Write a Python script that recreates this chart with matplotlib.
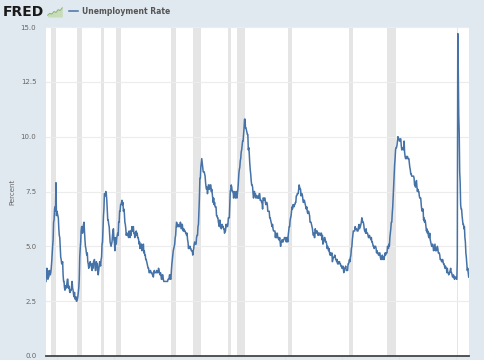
import matplotlib
matplotlib.use("Agg")
import matplotlib.pyplot as plt
import pandas as pd

# monthly unemployment rate (%), one row per year, Jan 1948 - Mar 2022
rate = [
    3.4, 3.8, 4.0, 3.9, 3.5, 3.6, 3.6, 3.9, 3.8, 3.7, 3.8, 4.0,   # 1948
    4.3, 4.7, 5.0, 5.3, 6.1, 6.2, 6.7, 6.8, 6.6, 7.9, 6.4, 6.6,   # 1949
    6.5, 6.4, 6.3, 5.8, 5.5, 5.4, 5.0, 4.5, 4.4, 4.2, 4.2, 4.3,   # 1950
    3.7, 3.4, 3.4, 3.1, 3.0, 3.2, 3.1, 3.1, 3.3, 3.5, 3.5, 3.1,   # 1951
    3.2, 3.1, 2.9, 2.9, 3.0, 3.0, 3.2, 3.4, 3.1, 3.0, 2.8, 2.7,   # 1952
    2.9, 2.6, 2.6, 2.7, 2.5, 2.5, 2.6, 2.7, 2.9, 3.1, 3.5, 4.5,   # 1953
    4.9, 5.2, 5.7, 5.9, 5.9, 5.6, 5.8, 6.0, 6.1, 5.7, 5.3, 5.0,   # 1954
    4.9, 4.7, 4.6, 4.7, 4.3, 4.2, 4.0, 4.2, 4.1, 4.3, 4.2, 4.2,   # 1955
    4.0, 3.9, 4.2, 4.0, 4.3, 4.3, 4.4, 4.1, 3.9, 3.9, 4.3, 4.2,   # 1956
    4.2, 3.9, 3.7, 3.9, 4.1, 4.3, 4.2, 4.1, 4.4, 4.5, 5.1, 5.2,   # 1957
    5.8, 6.4, 6.7, 7.4, 7.4, 7.3, 7.5, 7.4, 7.1, 6.7, 6.2, 6.2,   # 1958
    6.0, 5.9, 5.6, 5.2, 5.1, 5.0, 5.1, 5.2, 5.5, 5.7, 5.8, 5.3,   # 1959
    5.2, 4.8, 5.4, 5.2, 5.1, 5.4, 5.5, 5.6, 5.5, 6.1, 6.1, 6.6,   # 1960
    6.6, 6.9, 6.9, 7.0, 7.1, 6.9, 7.0, 6.6, 6.7, 6.5, 6.1, 6.0,   # 1961
    5.8, 5.5, 5.6, 5.6, 5.5, 5.5, 5.4, 5.7, 5.6, 5.4, 5.7, 5.5,   # 1962
    5.7, 5.9, 5.7, 5.7, 5.9, 5.6, 5.6, 5.4, 5.5, 5.5, 5.7, 5.5,   # 1963
    5.6, 5.4, 5.4, 5.3, 5.1, 5.2, 4.9, 5.0, 5.1, 5.1, 4.8, 5.0,   # 1964
    4.9, 5.1, 4.7, 4.8, 4.6, 4.6, 4.4, 4.4, 4.3, 4.2, 4.1, 4.0,   # 1965
    4.0, 3.8, 3.8, 3.8, 3.9, 3.8, 3.8, 3.8, 3.7, 3.7, 3.6, 3.8,   # 1966
    3.9, 3.8, 3.8, 3.8, 3.8, 3.9, 3.8, 3.8, 3.8, 4.0, 3.9, 3.8,   # 1967
    3.7, 3.8, 3.7, 3.5, 3.5, 3.7, 3.7, 3.5, 3.4, 3.4, 3.4, 3.4,   # 1968
    3.4, 3.4, 3.4, 3.4, 3.4, 3.5, 3.5, 3.5, 3.7, 3.7, 3.5, 3.5,   # 1969
    3.9, 4.2, 4.4, 4.6, 4.8, 4.9, 5.0, 5.1, 5.4, 5.5, 5.9, 6.1,   # 1970
    5.9, 5.9, 6.0, 5.9, 5.9, 5.9, 6.0, 6.1, 6.0, 5.8, 6.0, 6.0,   # 1971
    5.8, 5.7, 5.8, 5.7, 5.7, 5.7, 5.6, 5.6, 5.5, 5.6, 5.3, 5.2,   # 1972
    4.9, 5.0, 4.9, 5.0, 4.9, 4.9, 4.8, 4.8, 4.8, 4.6, 4.8, 4.9,   # 1973
    5.1, 5.2, 5.1, 5.1, 5.1, 5.4, 5.5, 5.5, 5.9, 6.0, 6.6, 7.2,   # 1974
    8.1, 8.1, 8.6, 8.8, 9.0, 8.8, 8.6, 8.4, 8.4, 8.4, 8.3, 8.2,   # 1975
    7.9, 7.7, 7.6, 7.7, 7.4, 7.6, 7.8, 7.8, 7.6, 7.7, 7.8, 7.8,   # 1976
    7.5, 7.6, 7.4, 7.2, 7.0, 7.2, 6.9, 7.0, 6.8, 6.8, 6.8, 6.4,   # 1977
    6.4, 6.3, 6.3, 6.1, 6.0, 5.9, 6.2, 5.9, 6.0, 5.8, 5.9, 6.0,   # 1978
    5.9, 5.9, 5.8, 5.8, 5.6, 5.7, 5.7, 6.0, 5.9, 6.0, 5.9, 6.0,   # 1979
    6.3, 6.3, 6.3, 6.9, 7.5, 7.6, 7.8, 7.7, 7.5, 7.5, 7.5, 7.2,   # 1980
    7.5, 7.4, 7.4, 7.2, 7.5, 7.5, 7.2, 7.4, 7.6, 7.9, 8.3, 8.5,   # 1981
    8.6, 8.9, 9.0, 9.3, 9.4, 9.6, 9.8, 9.8, 10.1, 10.4, 10.8, 10.8,  # 1982
    10.4, 10.4, 10.3, 10.2, 10.1, 10.1, 9.4, 9.5, 9.2, 8.8, 8.5, 8.3,  # 1983
    8.0, 7.8, 7.8, 7.7, 7.4, 7.2, 7.5, 7.5, 7.3, 7.4, 7.2, 7.3,   # 1984
    7.3, 7.2, 7.2, 7.3, 7.2, 7.4, 7.4, 7.1, 7.1, 7.1, 7.0, 7.0,   # 1985
    6.7, 7.2, 7.2, 7.1, 7.2, 7.2, 7.0, 6.9, 7.0, 7.0, 6.9, 6.6,   # 1986
    6.6, 6.6, 6.6, 6.3, 6.3, 6.2, 6.1, 6.0, 5.9, 6.0, 5.8, 5.7,   # 1987
    5.7, 5.7, 5.7, 5.4, 5.6, 5.4, 5.4, 5.6, 5.4, 5.4, 5.3, 5.3,   # 1988
    5.4, 5.2, 5.0, 5.2, 5.2, 5.3, 5.2, 5.2, 5.3, 5.3, 5.4, 5.4,   # 1989
    5.4, 5.3, 5.2, 5.4, 5.4, 5.2, 5.5, 5.7, 5.9, 5.9, 6.2, 6.3,   # 1990
    6.4, 6.6, 6.8, 6.7, 6.9, 6.9, 6.8, 6.9, 6.9, 7.0, 7.0, 7.3,   # 1991
    7.3, 7.4, 7.4, 7.4, 7.6, 7.8, 7.7, 7.6, 7.6, 7.3, 7.4, 7.4,   # 1992
    7.3, 7.1, 7.0, 7.1, 7.1, 7.0, 6.9, 6.8, 6.7, 6.8, 6.6, 6.5,   # 1993
    6.6, 6.6, 6.5, 6.4, 6.1, 6.1, 6.1, 6.0, 5.9, 5.8, 5.6, 5.5,   # 1994
    5.6, 5.4, 5.4, 5.8, 5.6, 5.6, 5.7, 5.7, 5.6, 5.5, 5.6, 5.6,   # 1995
    5.6, 5.5, 5.5, 5.6, 5.6, 5.3, 5.5, 5.1, 5.2, 5.2, 5.4, 5.4,   # 1996
    5.3, 5.2, 5.2, 5.1, 4.9, 5.0, 4.9, 4.8, 4.9, 4.7, 4.6, 4.7,   # 1997
    4.6, 4.6, 4.7, 4.3, 4.4, 4.5, 4.5, 4.5, 4.6, 4.5, 4.4, 4.4,   # 1998
    4.3, 4.4, 4.2, 4.3, 4.2, 4.3, 4.3, 4.2, 4.2, 4.1, 4.1, 4.0,   # 1999
    4.0, 4.1, 4.0, 3.8, 4.0, 4.0, 4.0, 4.1, 3.9, 3.9, 3.9, 3.9,   # 2000
    4.2, 4.2, 4.3, 4.4, 4.3, 4.5, 4.6, 4.9, 5.0, 5.3, 5.5, 5.7,   # 2001
    5.7, 5.7, 5.7, 5.9, 5.8, 5.8, 5.8, 5.7, 5.7, 5.7, 5.9, 6.0,   # 2002
    5.8, 5.9, 5.9, 6.0, 6.1, 6.3, 6.2, 6.1, 6.1, 6.0, 5.8, 5.7,   # 2003
    5.7, 5.6, 5.8, 5.6, 5.6, 5.6, 5.5, 5.4, 5.4, 5.5, 5.4, 5.4,   # 2004
    5.3, 5.4, 5.2, 5.2, 5.1, 5.0, 5.0, 4.9, 5.0, 5.0, 5.0, 4.9,   # 2005
    4.7, 4.8, 4.7, 4.7, 4.6, 4.6, 4.7, 4.7, 4.5, 4.4, 4.5, 4.4,   # 2006
    4.6, 4.5, 4.4, 4.5, 4.4, 4.6, 4.7, 4.6, 4.7, 4.7, 4.7, 5.0,   # 2007
    5.0, 4.9, 5.1, 5.0, 5.4, 5.6, 5.8, 6.1, 6.1, 6.5, 6.8, 7.3,   # 2008
    7.8, 8.3, 8.7, 9.0, 9.4, 9.5, 9.5, 9.6, 9.8, 10.0, 9.9, 9.9,  # 2009
    9.8, 9.8, 9.9, 9.9, 9.6, 9.4, 9.4, 9.5, 9.5, 9.4, 9.8, 9.3,   # 2010
    9.1, 9.0, 9.0, 9.1, 9.0, 9.1, 9.0, 9.0, 9.0, 8.8, 8.6, 8.5,   # 2011
    8.3, 8.3, 8.2, 8.2, 8.2, 8.2, 8.2, 8.1, 7.8, 7.8, 7.7, 7.9,   # 2012
    8.0, 7.7, 7.5, 7.6, 7.5, 7.5, 7.3, 7.2, 7.2, 7.2, 6.9, 6.7,   # 2013
    6.6, 6.7, 6.7, 6.2, 6.3, 6.1, 6.2, 6.1, 5.9, 5.7, 5.8, 5.6,   # 2014
    5.7, 5.5, 5.4, 5.4, 5.6, 5.3, 5.2, 5.1, 5.0, 5.0, 5.1, 5.0,   # 2015
    4.8, 4.9, 5.0, 5.1, 4.8, 4.9, 4.8, 4.9, 5.0, 4.9, 4.7, 4.7,   # 2016
    4.7, 4.6, 4.4, 4.4, 4.4, 4.3, 4.3, 4.4, 4.3, 4.2, 4.2, 4.1,   # 2017
    4.0, 4.1, 4.0, 4.0, 3.8, 4.0, 3.8, 3.8, 3.7, 3.8, 3.8, 3.9,   # 2018
    4.0, 3.8, 3.8, 3.7, 3.6, 3.6, 3.7, 3.6, 3.5, 3.6, 3.6, 3.6,   # 2019
    3.5, 3.5, 4.4, 14.7, 13.2, 11.0, 10.2, 8.4, 7.9, 6.9, 6.7, 6.7,  # 2020
    6.4, 6.2, 6.0, 6.0, 5.8, 5.9, 5.4, 5.2, 4.7, 4.5, 4.2, 3.9,   # 2021
    4.0, 3.8, 3.6,                                                # 2022
]
start_month = "1948-01-01"

# NBER recessions (shaded)
rec_start = ["1948-11", "1953-07", "1957-08", "1960-04", "1969-12", "1973-11",
             "1980-01", "1981-07", "1990-07", "2001-03", "2007-12", "2020-02"]
rec_end = ["1949-10", "1954-05", "1958-04", "1961-02", "1970-11", "1975-03",
           "1980-07", "1982-11", "1991-03", "2001-11", "2009-06", "2020-04"]

y_ticks = [0, 2.5, 5, 7.5, 10, 12.5, 15]
x_ticks = [str(y) + "-01-01" for y in range(1950, 2030, 10)]

dates = pd.date_range(start_month, periods=len(rate), freq="MS")

bg = "#e1e9f0"
fig = plt.figure(figsize=(4.85, 3.6), dpi=100, facecolor=bg)
ax = fig.add_axes([46/485, 4/360, 423/485, 329/360])
ax.set_facecolor("white")

for s, e in zip(rec_start, rec_end):
    ax.axvspan(pd.Timestamp(s), pd.Timestamp(e), color="#e5e5e5", lw=0, zorder=0)

ax.plot(dates, rate, color="#4572a7", lw=1.1, label="Unemployment Rate", zorder=3)

ax.set_ylim(0, 15)
ax.set_xlim(dates[0], dates[-1] + pd.Timedelta(days=20))
ax.set_yticks(y_ticks)
ax.set_yticklabels([f"{t:.1f}" for t in y_ticks])
ax.set_xticks(pd.to_datetime(x_ticks))
ax.set_xticklabels([])
ax.grid(axis="y", color="#ececec", lw=0.8, zorder=1)
ax.tick_params(axis="y", length=0, labelsize=5, labelcolor="#666666", pad=7)
ax.tick_params(axis="x", length=4, color="#e0e0e0", width=0.6)
for side in ["top", "right", "left"]:
    ax.spines[side].set_visible(False)
ax.spines["bottom"].set_color("#444444")
ax.spines["bottom"].set_linewidth(1.3)
ax.set_ylabel("Percent", fontsize=5, color="#666666", labelpad=4)

# header: FRED logo + legend
fig.text(3/485, 1 - 12/360, "FRED", fontsize=10, fontweight="bold",
         color="#1a1a1a", va="center", ha="left")
logo_y = [1, 2, 1.6, 3, 2.5, 4, 3.6, 5]
icon = fig.add_axes([47/485, 1 - 17/360, 16/485, 10/360])
icon.fill_between(range(len(logo_y)), logo_y, color="#c8dcb8", lw=0)
icon.plot(range(len(logo_y)), logo_y, color="#8db86f", lw=0.8)
icon.set_ylim(0, 5.5)
icon.axis("off")

ax.legend(loc="center left", bbox_to_anchor=(62/485, 1 - 11/360),
          bbox_transform=fig.transFigure, frameon=False,
          handlelength=1.2, handletextpad=0.5, labelcolor="#555555",
          prop={"weight": "bold", "size": 5.5})

fig.savefig("out.png", dpi=100, facecolor=bg)
